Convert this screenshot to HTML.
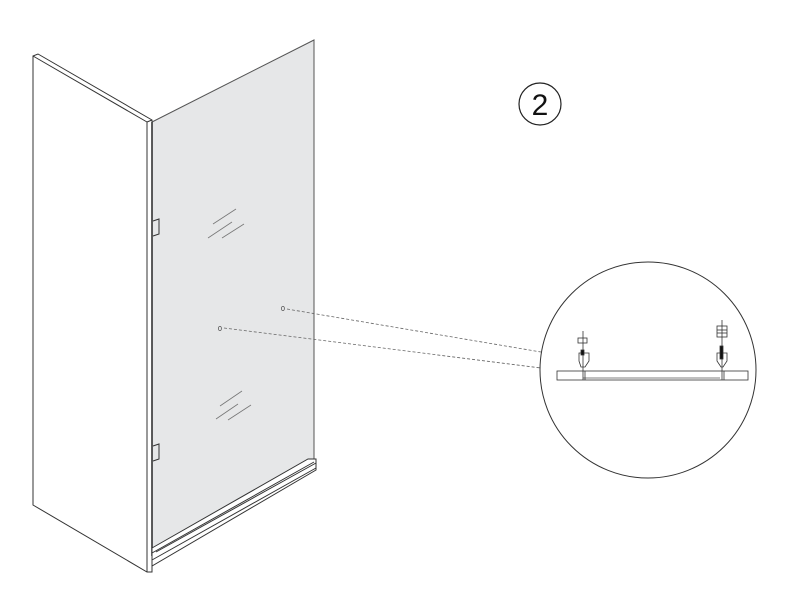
<!DOCTYPE html>
<html><head><style>html,body{margin:0;padding:0;background:#fff}</style></head>
<body>
<svg width="800" height="600" viewBox="0 0 800 600" xmlns="http://www.w3.org/2000/svg">
<rect width="800" height="600" fill="#fff"/>
<g fill="none" stroke="#333" stroke-width="1">
  <!-- wall -->
  <polygon points="33,56 38,54 152,120 152,572 147,572 33,505" fill="#fff"/>
  <line x1="33" y1="56" x2="147" y2="122"/>
  <line x1="147" y1="122" x2="147" y2="572"/>
  <line x1="147" y1="122" x2="152" y2="120"/>
  <!-- glass -->
  <polygon points="152,122 314,40 314,460 152,553" fill="#e6e7e8" stroke="#555"/>
  <line x1="152" y1="122" x2="152" y2="556" stroke="#333" stroke-width="1.6"/>
  <!-- bottom rail -->
  <polygon points="152,548 308,459 316,459 316,470 152,566" fill="#fff"/>
  <line x1="152" y1="553" x2="314" y2="462"/>
  <line x1="156" y1="552" x2="316" y2="463"/>
  <line x1="152" y1="560" x2="316" y2="468"/>
  <!-- hinges -->
  <path d="M153,221 L159,219 L159,234 L153,236"/>
  <path d="M153,446 L159,444 L159,459 L153,461"/>
</g>
<!-- glass reflection strokes -->
<g stroke="#777" stroke-width="0.8">
  <line x1="213" y1="224" x2="236" y2="209"/>
  <line x1="208" y1="238" x2="232" y2="222"/>
  <line x1="222" y1="238" x2="244" y2="224"/>
  <line x1="220" y1="406" x2="242" y2="391"/>
  <line x1="216" y1="419" x2="238" y2="404"/>
  <line x1="228" y1="420" x2="251" y2="405"/>
</g>
<!-- dashed leaders -->
<g stroke="#666" stroke-width="0.8" stroke-dasharray="3,2" fill="none">
  <line x1="287" y1="309" x2="541" y2="352"/>
  <line x1="224" y1="328" x2="541" y2="368"/>
</g>
<g font-family="Liberation Sans, sans-serif" font-size="7" fill="#333">
  <text x="281" y="311">0</text>
  <text x="218" y="331">0</text>
</g>
<!-- number circle -->
<circle cx="540" cy="104" r="21" fill="none" stroke="#222" stroke-width="1.2"/>
<text x="540" y="115" text-anchor="middle" font-family="Liberation Sans, sans-serif" font-size="30" fill="#111">2</text>
<!-- detail circle -->
<circle cx="648" cy="370" r="108" fill="#fff" stroke="#333" stroke-width="1"/>
<g fill="none" stroke="#333" stroke-width="0.8">
  <rect x="557" y="371" width="191" height="9"/>
  <line x1="583" y1="378" x2="720" y2="378" stroke="#aaa" stroke-width="1.5"/>
  <!-- left fixing -->
  <line x1="583" y1="331" x2="583" y2="380"/>
  <line x1="585" y1="371" x2="585" y2="380"/>
  <rect x="578" y="338" width="9" height="5"/>
  <path d="M579,353 L589,353 L589,361 L585,367 L581,367 L579,361 Z"/>
  <rect x="581" y="350" width="3" height="5" fill="#111"/>
  <!-- right fixing -->
  <line x1="722" y1="320" x2="722" y2="380"/>
  <line x1="724" y1="371" x2="724" y2="380"/>
  <rect x="717" y="326" width="10" height="11"/>
  <line x1="717" y1="330" x2="727" y2="330"/>
  <line x1="717" y1="333" x2="727" y2="333"/>
  <path d="M717,353 L727,353 L727,361 L723,367 L721,367 L717,361 Z"/>
  <rect x="720" y="346" width="3" height="13" fill="#111"/>
</g>
</svg>
</body></html>
